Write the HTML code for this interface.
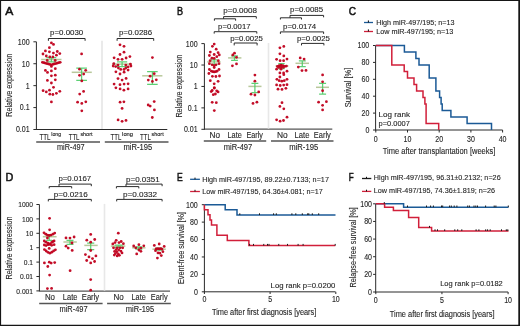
<!DOCTYPE html>
<html><head><meta charset="utf-8"><style>
html,body{margin:0;padding:0;background:#fff;}
body{width:520px;height:326px;overflow:hidden;}
svg{display:block;font-family:"Liberation Sans",sans-serif;}
text{stroke:#262626;stroke-width:0.12px;}
#txt{opacity:0.999;}
</style></head><body>
<svg width="520" height="326" viewBox="0 0 520 326">
<rect x="0" y="0" width="520" height="326" fill="#fff"/>
<line x1="36.40" y1="41.80" x2="36.40" y2="130.00" stroke="#2a2a2a" stroke-width="1"/>
<line x1="33.40" y1="41.80" x2="36.40" y2="41.80" stroke="#2a2a2a" stroke-width="1"/>
<line x1="33.40" y1="63.72" x2="36.40" y2="63.72" stroke="#2a2a2a" stroke-width="1"/>
<line x1="33.40" y1="85.65" x2="36.40" y2="85.65" stroke="#2a2a2a" stroke-width="1"/>
<line x1="33.40" y1="107.58" x2="36.40" y2="107.58" stroke="#2a2a2a" stroke-width="1"/>
<line x1="33.40" y1="129.50" x2="36.40" y2="129.50" stroke="#2a2a2a" stroke-width="1"/>
<line x1="36.40" y1="129.50" x2="167.30" y2="129.50" stroke="#2a2a2a" stroke-width="1"/>
<line x1="102.00" y1="40.80" x2="102.00" y2="129.00" stroke="#e8e8e8" stroke-width="1.8"/>
<line x1="36.20" y1="141.90" x2="100.00" y2="141.90" stroke="#555555" stroke-width="1.5"/>
<line x1="104.80" y1="141.90" x2="168.50" y2="141.90" stroke="#555555" stroke-width="1.5"/>
<path d="M48.40,40.80 V38.50 H85.10 V40.80" fill="none" stroke="#2a2a2a" stroke-width="1"/>
<path d="M117.10,40.80 V38.50 H153.70 V40.80" fill="none" stroke="#2a2a2a" stroke-width="1"/>
<line x1="204.40" y1="43.60" x2="204.40" y2="129.80" stroke="#2a2a2a" stroke-width="1"/>
<line x1="201.40" y1="43.60" x2="204.40" y2="43.60" stroke="#2a2a2a" stroke-width="1"/>
<line x1="201.40" y1="65.03" x2="204.40" y2="65.03" stroke="#2a2a2a" stroke-width="1"/>
<line x1="201.40" y1="86.45" x2="204.40" y2="86.45" stroke="#2a2a2a" stroke-width="1"/>
<line x1="201.40" y1="107.88" x2="204.40" y2="107.88" stroke="#2a2a2a" stroke-width="1"/>
<line x1="201.40" y1="129.30" x2="204.40" y2="129.30" stroke="#2a2a2a" stroke-width="1"/>
<line x1="204.40" y1="129.10" x2="332.30" y2="129.10" stroke="#2a2a2a" stroke-width="1"/>
<line x1="268.50" y1="43.00" x2="268.50" y2="128.60" stroke="#e8e8e8" stroke-width="1.6"/>
<line x1="203.80" y1="141.00" x2="266.20" y2="141.00" stroke="#555555" stroke-width="1.5"/>
<line x1="271.00" y1="141.00" x2="333.50" y2="141.00" stroke="#555555" stroke-width="1.5"/>
<path d="M214.40,20.70 V18.80 H235.60 V20.70" fill="none" stroke="#2a2a2a" stroke-width="1"/>
<path d="M223.6,18.8 V16.6 H256.3 V18.6" fill="none" stroke="#2a2a2a" stroke-width="1"/>
<path d="M214.20,33.60 V31.70 H256.80 V33.60" fill="none" stroke="#2a2a2a" stroke-width="1"/>
<path d="M234.20,45.40 V43.00 H257.10 V45.40" fill="none" stroke="#2a2a2a" stroke-width="1"/>
<path d="M280.40,19.50 V17.80 H301.50 V19.50" fill="none" stroke="#2a2a2a" stroke-width="1"/>
<path d="M290,17.8 V15.4 H323.6 V17.3" fill="none" stroke="#2a2a2a" stroke-width="1"/>
<path d="M280.40,33.90 V31.90 H323.60 V33.90" fill="none" stroke="#2a2a2a" stroke-width="1"/>
<path d="M301.50,45.40 V43.40 H323.90 V45.40" fill="none" stroke="#2a2a2a" stroke-width="1"/>
<line x1="375.60" y1="45.50" x2="375.60" y2="130.50" stroke="#2a2a2a" stroke-width="1"/>
<line x1="373.00" y1="45.50" x2="375.60" y2="45.50" stroke="#2a2a2a" stroke-width="1"/>
<line x1="373.00" y1="62.40" x2="375.60" y2="62.40" stroke="#2a2a2a" stroke-width="1"/>
<line x1="373.00" y1="79.30" x2="375.60" y2="79.30" stroke="#2a2a2a" stroke-width="1"/>
<line x1="373.00" y1="96.20" x2="375.60" y2="96.20" stroke="#2a2a2a" stroke-width="1"/>
<line x1="373.00" y1="113.10" x2="375.60" y2="113.10" stroke="#2a2a2a" stroke-width="1"/>
<line x1="373.00" y1="130.00" x2="375.60" y2="130.00" stroke="#2a2a2a" stroke-width="1"/>
<line x1="375.60" y1="130.00" x2="502.60" y2="130.00" stroke="#2a2a2a" stroke-width="1"/>
<line x1="375.80" y1="130.00" x2="375.80" y2="132.50" stroke="#2a2a2a" stroke-width="1"/>
<line x1="407.50" y1="130.00" x2="407.50" y2="132.50" stroke="#2a2a2a" stroke-width="1"/>
<line x1="439.20" y1="130.00" x2="439.20" y2="132.50" stroke="#2a2a2a" stroke-width="1"/>
<line x1="470.90" y1="130.00" x2="470.90" y2="132.50" stroke="#2a2a2a" stroke-width="1"/>
<line x1="502.60" y1="130.00" x2="502.60" y2="132.50" stroke="#2a2a2a" stroke-width="1"/>
<line x1="364.00" y1="22.50" x2="373.00" y2="22.50" stroke="#1b5a96" stroke-width="1.3"/>
<line x1="368.40" y1="20.40" x2="368.40" y2="22.50" stroke="#111" stroke-width="1.0"/>
<line x1="364.00" y1="31.50" x2="373.00" y2="31.50" stroke="#d11f3a" stroke-width="1.3"/>
<line x1="368.40" y1="29.40" x2="368.40" y2="31.50" stroke="#111" stroke-width="1.0"/>
<line x1="39.40" y1="204.50" x2="39.40" y2="291.40" stroke="#2a2a2a" stroke-width="1"/>
<line x1="36.40" y1="204.50" x2="39.40" y2="204.50" stroke="#2a2a2a" stroke-width="1"/>
<line x1="36.40" y1="218.90" x2="39.40" y2="218.90" stroke="#2a2a2a" stroke-width="1"/>
<line x1="36.40" y1="233.30" x2="39.40" y2="233.30" stroke="#2a2a2a" stroke-width="1"/>
<line x1="36.40" y1="247.70" x2="39.40" y2="247.70" stroke="#2a2a2a" stroke-width="1"/>
<line x1="36.40" y1="262.10" x2="39.40" y2="262.10" stroke="#2a2a2a" stroke-width="1"/>
<line x1="36.40" y1="276.50" x2="39.40" y2="276.50" stroke="#2a2a2a" stroke-width="1"/>
<line x1="36.40" y1="290.90" x2="39.40" y2="290.90" stroke="#2a2a2a" stroke-width="1"/>
<line x1="39.40" y1="291.10" x2="170.00" y2="291.10" stroke="#2a2a2a" stroke-width="1"/>
<line x1="104.50" y1="203.90" x2="104.50" y2="290.60" stroke="#e8e8e8" stroke-width="1.6"/>
<line x1="39.20" y1="303.60" x2="102.60" y2="303.60" stroke="#555555" stroke-width="1.5"/>
<line x1="107.10" y1="303.60" x2="170.80" y2="303.60" stroke="#555555" stroke-width="1.5"/>
<path d="M49.20,188.40 V186.60 H71.70 V188.40" fill="none" stroke="#2a2a2a" stroke-width="1"/>
<path d="M59,186.6 V184.1 H91.3 V186.2" fill="none" stroke="#2a2a2a" stroke-width="1"/>
<path d="M48.30,201.40 V199.40 H91.30 V201.40" fill="none" stroke="#2a2a2a" stroke-width="1"/>
<path d="M116.40,188.40 V186.60 H138.80 V188.40" fill="none" stroke="#2a2a2a" stroke-width="1"/>
<path d="M126,186.6 V184.1 H162.1 V186.2" fill="none" stroke="#2a2a2a" stroke-width="1"/>
<path d="M116.70,201.40 V199.40 H162.10 V201.40" fill="none" stroke="#2a2a2a" stroke-width="1"/>
<line x1="204.40" y1="204.70" x2="204.40" y2="292.30" stroke="#2a2a2a" stroke-width="1"/>
<line x1="201.80" y1="204.70" x2="204.40" y2="204.70" stroke="#2a2a2a" stroke-width="1"/>
<line x1="201.80" y1="222.12" x2="204.40" y2="222.12" stroke="#2a2a2a" stroke-width="1"/>
<line x1="201.80" y1="239.54" x2="204.40" y2="239.54" stroke="#2a2a2a" stroke-width="1"/>
<line x1="201.80" y1="256.96" x2="204.40" y2="256.96" stroke="#2a2a2a" stroke-width="1"/>
<line x1="201.80" y1="274.38" x2="204.40" y2="274.38" stroke="#2a2a2a" stroke-width="1"/>
<line x1="201.80" y1="291.80" x2="204.40" y2="291.80" stroke="#2a2a2a" stroke-width="1"/>
<line x1="204.40" y1="291.80" x2="335.50" y2="291.80" stroke="#2a2a2a" stroke-width="1"/>
<line x1="204.40" y1="291.80" x2="204.40" y2="294.00" stroke="#2a2a2a" stroke-width="1"/>
<line x1="270.10" y1="291.80" x2="270.10" y2="294.00" stroke="#2a2a2a" stroke-width="1"/>
<line x1="335.80" y1="291.80" x2="335.80" y2="294.00" stroke="#2a2a2a" stroke-width="1"/>
<line x1="190.10" y1="179.30" x2="199.90" y2="179.30" stroke="#1b5a96" stroke-width="1.3"/>
<line x1="195.00" y1="177.60" x2="195.00" y2="179.30" stroke="#111" stroke-width="1.0"/>
<line x1="190.10" y1="191.50" x2="199.90" y2="191.50" stroke="#d11f3a" stroke-width="1.3"/>
<line x1="195.00" y1="189.80" x2="195.00" y2="191.50" stroke="#111" stroke-width="1.0"/>
<line x1="375.70" y1="203.80" x2="375.70" y2="292.50" stroke="#2a2a2a" stroke-width="1"/>
<line x1="373.10" y1="203.80" x2="375.70" y2="203.80" stroke="#2a2a2a" stroke-width="1"/>
<line x1="373.10" y1="221.44" x2="375.70" y2="221.44" stroke="#2a2a2a" stroke-width="1"/>
<line x1="373.10" y1="239.08" x2="375.70" y2="239.08" stroke="#2a2a2a" stroke-width="1"/>
<line x1="373.10" y1="256.72" x2="375.70" y2="256.72" stroke="#2a2a2a" stroke-width="1"/>
<line x1="373.10" y1="274.36" x2="375.70" y2="274.36" stroke="#2a2a2a" stroke-width="1"/>
<line x1="373.10" y1="292.00" x2="375.70" y2="292.00" stroke="#2a2a2a" stroke-width="1"/>
<line x1="375.70" y1="292.00" x2="508.10" y2="292.00" stroke="#2a2a2a" stroke-width="1"/>
<line x1="375.80" y1="292.00" x2="375.80" y2="294.20" stroke="#2a2a2a" stroke-width="1"/>
<line x1="441.95" y1="292.00" x2="441.95" y2="294.20" stroke="#2a2a2a" stroke-width="1"/>
<line x1="508.10" y1="292.00" x2="508.10" y2="294.20" stroke="#2a2a2a" stroke-width="1"/>
<line x1="362.00" y1="178.50" x2="371.30" y2="178.50" stroke="#1a1a1a" stroke-width="1.3"/>
<line x1="366.50" y1="176.80" x2="366.50" y2="178.50" stroke="#111" stroke-width="1.0"/>
<line x1="362.00" y1="191.40" x2="371.30" y2="191.40" stroke="#d11f3a" stroke-width="1.3"/>
<line x1="366.50" y1="189.70" x2="366.50" y2="191.40" stroke="#111" stroke-width="1.0"/>
<line x1="41.2" y1="59.5" x2="61.5" y2="59.5" stroke="#9ab070" stroke-width="1.5" stroke-opacity="0.7"/>
<path d="M46.55,57.7 H56.25 M51.4,57.7 V61.9 M46.55,61.9 H56.25" fill="none" stroke="#4ccb66" stroke-width="1.25" stroke-opacity="0.9"/>
<line x1="71.7" y1="72.3" x2="91.8" y2="72.3" stroke="#9ab070" stroke-width="1.5" stroke-opacity="0.7"/>
<path d="M76.25,68.0 H86.95 M81.6,68.0 V80.3 M76.25,80.3 H86.95" fill="none" stroke="#4ccb66" stroke-width="1.25" stroke-opacity="0.9"/>
<line x1="112.0" y1="64.1" x2="131.8" y2="64.1" stroke="#9ab070" stroke-width="1.5" stroke-opacity="0.7"/>
<path d="M117.00,61.8 H127.20 M122.1,61.8 V66.6 M117.00,66.6 H127.20" fill="none" stroke="#4ccb66" stroke-width="1.25" stroke-opacity="0.9"/>
<line x1="142.2" y1="75.8" x2="162.4" y2="75.8" stroke="#9ab070" stroke-width="1.5" stroke-opacity="0.7"/>
<path d="M147.10,71.5 H157.70 M152.4,71.5 V84.4 M147.10,84.4 H157.70" fill="none" stroke="#4ccb66" stroke-width="1.25" stroke-opacity="0.9"/>
<line x1="207.3" y1="61.9" x2="220.6" y2="61.9" stroke="#9ab070" stroke-width="1.5" stroke-opacity="0.7"/>
<path d="M211.00,59.8 H217.40 M214.2,59.8 V64.4 M211.00,64.4 H217.40" fill="none" stroke="#4ccb66" stroke-width="1.25" stroke-opacity="0.9"/>
<line x1="228.1" y1="57.9" x2="241.4" y2="57.9" stroke="#9ab070" stroke-width="1.5" stroke-opacity="0.7"/>
<path d="M231.10,55.9 H237.90 M234.5,55.9 V60.3 M231.10,60.3 H237.90" fill="none" stroke="#4ccb66" stroke-width="1.25" stroke-opacity="0.9"/>
<line x1="248.4" y1="86.4" x2="261.5" y2="86.4" stroke="#9ab070" stroke-width="1.5" stroke-opacity="0.7"/>
<path d="M251.45,83.3 H258.35 M254.9,83.3 V92.5 M251.45,92.5 H258.35" fill="none" stroke="#4ccb66" stroke-width="1.25" stroke-opacity="0.9"/>
<line x1="275.5" y1="66.0" x2="288.4" y2="66.0" stroke="#9ab070" stroke-width="1.5" stroke-opacity="0.7"/>
<path d="M278.30,63.7 H284.70 M281.5,63.7 V68.7 M278.30,68.7 H284.70" fill="none" stroke="#4ccb66" stroke-width="1.25" stroke-opacity="0.9"/>
<line x1="295.5" y1="63.3" x2="309.0" y2="63.3" stroke="#9ab070" stroke-width="1.5" stroke-opacity="0.7"/>
<path d="M298.85,60.9 H305.75 M302.3,60.9 V66.5 M298.85,66.5 H305.75" fill="none" stroke="#4ccb66" stroke-width="1.25" stroke-opacity="0.9"/>
<line x1="316.0" y1="87.3" x2="329.0" y2="87.3" stroke="#9ab070" stroke-width="1.5" stroke-opacity="0.7"/>
<path d="M319.10,83.3 H326.10 M322.6,83.3 V94.2 M319.10,94.2 H326.10" fill="none" stroke="#4ccb66" stroke-width="1.25" stroke-opacity="0.9"/>
<line x1="42.8" y1="236.7" x2="56.6" y2="236.7" stroke="#9ab070" stroke-width="1.5" stroke-opacity="0.7"/>
<path d="M46.20,234.8 H52.20 M49.2,234.8 V240.4 M46.20,240.4 H52.20" fill="none" stroke="#4ccb66" stroke-width="1.25" stroke-opacity="0.9"/>
<line x1="63.4" y1="242.0" x2="76.8" y2="242.0" stroke="#9ab070" stroke-width="1.5" stroke-opacity="0.7"/>
<path d="M66.50,240.3 H73.50 M70.0,240.3 V244.3 M66.50,244.3 H73.50" fill="none" stroke="#4ccb66" stroke-width="1.25" stroke-opacity="0.9"/>
<line x1="84.3" y1="245.4" x2="97.7" y2="245.4" stroke="#9ab070" stroke-width="1.5" stroke-opacity="0.7"/>
<path d="M87.15,243.2 H94.25 M90.7,243.2 V249.5 M87.15,249.5 H94.25" fill="none" stroke="#4ccb66" stroke-width="1.25" stroke-opacity="0.9"/>
<line x1="110.9" y1="246.1" x2="125.3" y2="246.1" stroke="#9ab070" stroke-width="1.5" stroke-opacity="0.7"/>
<path d="M114.70,245.0 H122.70 M118.7,245.0 V247.4 M114.70,247.4 H122.70" fill="none" stroke="#4ccb66" stroke-width="1.25" stroke-opacity="0.9"/>
<line x1="132.1" y1="247.8" x2="145.5" y2="247.8" stroke="#9ab070" stroke-width="1.5" stroke-opacity="0.7"/>
<path d="M135.45,246.9 H142.35 M138.9,246.9 V249.0 M135.45,249.0 H142.35" fill="none" stroke="#4ccb66" stroke-width="1.25" stroke-opacity="0.9"/>
<line x1="152.4" y1="249.2" x2="165.8" y2="249.2" stroke="#9ab070" stroke-width="1.5" stroke-opacity="0.7"/>
<path d="M155.40,248.2 H162.40 M158.9,248.2 V250.2 M155.40,250.2 H162.40" fill="none" stroke="#4ccb66" stroke-width="1.25" stroke-opacity="0.9"/>
<circle cx="51.40" cy="42.90" r="1.4" fill="#c0001c" fill-opacity="0.95"/>
<circle cx="53.50" cy="44.40" r="1.4" fill="#c0001c" fill-opacity="0.95"/>
<circle cx="49.40" cy="47.70" r="1.4" fill="#c0001c" fill-opacity="0.95"/>
<circle cx="45.40" cy="50.90" r="1.4" fill="#c0001c" fill-opacity="0.95"/>
<circle cx="49.40" cy="51.80" r="1.4" fill="#c0001c" fill-opacity="0.95"/>
<circle cx="53.40" cy="53.10" r="1.4" fill="#c0001c" fill-opacity="0.95"/>
<circle cx="57.30" cy="51.50" r="1.4" fill="#c0001c" fill-opacity="0.95"/>
<circle cx="59.80" cy="53.60" r="1.4" fill="#c0001c" fill-opacity="0.95"/>
<circle cx="43.00" cy="54.00" r="1.4" fill="#c0001c" fill-opacity="0.95"/>
<circle cx="46.30" cy="56.00" r="1.4" fill="#c0001c" fill-opacity="0.95"/>
<circle cx="56.40" cy="55.20" r="1.4" fill="#c0001c" fill-opacity="0.95"/>
<circle cx="49.80" cy="57.00" r="1.4" fill="#c0001c" fill-opacity="0.95"/>
<circle cx="52.90" cy="57.00" r="1.4" fill="#c0001c" fill-opacity="0.95"/>
<circle cx="47.20" cy="60.40" r="1.4" fill="#c0001c" fill-opacity="0.95"/>
<circle cx="55.20" cy="60.40" r="1.4" fill="#c0001c" fill-opacity="0.95"/>
<circle cx="42.40" cy="62.30" r="1.4" fill="#c0001c" fill-opacity="0.95"/>
<circle cx="43.88" cy="62.72" r="1.4" fill="#c0001c" fill-opacity="0.95"/>
<circle cx="45.37" cy="63.13" r="1.4" fill="#c0001c" fill-opacity="0.95"/>
<circle cx="46.85" cy="63.55" r="1.4" fill="#c0001c" fill-opacity="0.95"/>
<circle cx="48.33" cy="63.97" r="1.4" fill="#c0001c" fill-opacity="0.95"/>
<circle cx="49.82" cy="64.38" r="1.4" fill="#c0001c" fill-opacity="0.95"/>
<circle cx="51.30" cy="64.80" r="1.4" fill="#c0001c" fill-opacity="0.95"/>
<circle cx="52.78" cy="64.38" r="1.4" fill="#c0001c" fill-opacity="0.95"/>
<circle cx="54.27" cy="63.97" r="1.4" fill="#c0001c" fill-opacity="0.95"/>
<circle cx="55.75" cy="63.55" r="1.4" fill="#c0001c" fill-opacity="0.95"/>
<circle cx="57.23" cy="63.13" r="1.4" fill="#c0001c" fill-opacity="0.95"/>
<circle cx="58.72" cy="62.72" r="1.4" fill="#c0001c" fill-opacity="0.95"/>
<circle cx="60.20" cy="62.30" r="1.4" fill="#c0001c" fill-opacity="0.95"/>
<circle cx="51.40" cy="66.40" r="1.4" fill="#c0001c" fill-opacity="0.95"/>
<circle cx="55.30" cy="68.70" r="1.4" fill="#c0001c" fill-opacity="0.95"/>
<circle cx="45.40" cy="70.40" r="1.4" fill="#c0001c" fill-opacity="0.95"/>
<circle cx="47.50" cy="72.40" r="1.4" fill="#c0001c" fill-opacity="0.95"/>
<circle cx="51.40" cy="70.90" r="1.4" fill="#c0001c" fill-opacity="0.95"/>
<circle cx="51.40" cy="75.80" r="1.4" fill="#c0001c" fill-opacity="0.95"/>
<circle cx="55.30" cy="75.20" r="1.4" fill="#c0001c" fill-opacity="0.95"/>
<circle cx="47.40" cy="80.40" r="1.4" fill="#c0001c" fill-opacity="0.95"/>
<circle cx="55.30" cy="79.80" r="1.4" fill="#c0001c" fill-opacity="0.95"/>
<circle cx="51.40" cy="83.00" r="1.4" fill="#c0001c" fill-opacity="0.95"/>
<circle cx="53.50" cy="87.30" r="1.4" fill="#c0001c" fill-opacity="0.95"/>
<circle cx="43.10" cy="90.70" r="1.4" fill="#c0001c" fill-opacity="0.95"/>
<circle cx="46.30" cy="91.90" r="1.4" fill="#c0001c" fill-opacity="0.95"/>
<circle cx="49.50" cy="90.20" r="1.4" fill="#c0001c" fill-opacity="0.95"/>
<circle cx="49.80" cy="94.20" r="1.4" fill="#c0001c" fill-opacity="0.95"/>
<circle cx="52.90" cy="94.50" r="1.4" fill="#c0001c" fill-opacity="0.95"/>
<circle cx="56.40" cy="93.30" r="1.4" fill="#c0001c" fill-opacity="0.95"/>
<circle cx="59.80" cy="91.30" r="1.4" fill="#c0001c" fill-opacity="0.95"/>
<circle cx="51.40" cy="101.90" r="1.4" fill="#c0001c" fill-opacity="0.95"/>
<circle cx="81.60" cy="53.90" r="1.4" fill="#c0001c" fill-opacity="0.95"/>
<circle cx="79.50" cy="69.20" r="1.4" fill="#c0001c" fill-opacity="0.95"/>
<circle cx="85.70" cy="70.30" r="1.4" fill="#c0001c" fill-opacity="0.95"/>
<circle cx="83.70" cy="74.10" r="1.4" fill="#c0001c" fill-opacity="0.95"/>
<circle cx="79.50" cy="75.30" r="1.4" fill="#c0001c" fill-opacity="0.95"/>
<circle cx="81.80" cy="80.90" r="1.4" fill="#c0001c" fill-opacity="0.95"/>
<circle cx="83.60" cy="91.40" r="1.4" fill="#c0001c" fill-opacity="0.95"/>
<circle cx="79.70" cy="94.10" r="1.4" fill="#c0001c" fill-opacity="0.95"/>
<circle cx="77.60" cy="102.20" r="1.4" fill="#c0001c" fill-opacity="0.95"/>
<circle cx="81.80" cy="103.40" r="1.4" fill="#c0001c" fill-opacity="0.95"/>
<circle cx="85.80" cy="101.80" r="1.4" fill="#c0001c" fill-opacity="0.95"/>
<circle cx="81.80" cy="110.80" r="1.4" fill="#c0001c" fill-opacity="0.95"/>
<circle cx="120.00" cy="44.80" r="1.4" fill="#c0001c" fill-opacity="0.95"/>
<circle cx="124.00" cy="46.30" r="1.4" fill="#c0001c" fill-opacity="0.95"/>
<circle cx="124.00" cy="52.20" r="1.4" fill="#c0001c" fill-opacity="0.95"/>
<circle cx="120.00" cy="54.50" r="1.4" fill="#c0001c" fill-opacity="0.95"/>
<circle cx="114.10" cy="57.80" r="1.4" fill="#c0001c" fill-opacity="0.95"/>
<circle cx="118.00" cy="59.30" r="1.4" fill="#c0001c" fill-opacity="0.95"/>
<circle cx="122.10" cy="59.30" r="1.4" fill="#c0001c" fill-opacity="0.95"/>
<circle cx="126.10" cy="58.00" r="1.4" fill="#c0001c" fill-opacity="0.95"/>
<circle cx="129.90" cy="56.60" r="1.4" fill="#c0001c" fill-opacity="0.95"/>
<circle cx="113.80" cy="63.70" r="1.4" fill="#c0001c" fill-opacity="0.95"/>
<circle cx="113.20" cy="66.00" r="1.4" fill="#c0001c" fill-opacity="0.95"/>
<circle cx="115.70" cy="66.60" r="1.4" fill="#c0001c" fill-opacity="0.95"/>
<circle cx="118.00" cy="65.10" r="1.4" fill="#c0001c" fill-opacity="0.95"/>
<circle cx="125.80" cy="65.10" r="1.4" fill="#c0001c" fill-opacity="0.95"/>
<circle cx="130.40" cy="64.10" r="1.4" fill="#c0001c" fill-opacity="0.95"/>
<circle cx="130.90" cy="66.00" r="1.4" fill="#c0001c" fill-opacity="0.95"/>
<circle cx="128.10" cy="66.90" r="1.4" fill="#c0001c" fill-opacity="0.95"/>
<circle cx="118.40" cy="68.10" r="1.4" fill="#c0001c" fill-opacity="0.95"/>
<circle cx="120.70" cy="69.40" r="1.4" fill="#c0001c" fill-opacity="0.95"/>
<circle cx="124.00" cy="69.40" r="1.4" fill="#c0001c" fill-opacity="0.95"/>
<circle cx="125.80" cy="68.10" r="1.4" fill="#c0001c" fill-opacity="0.95"/>
<circle cx="115.90" cy="71.80" r="1.4" fill="#c0001c" fill-opacity="0.95"/>
<circle cx="120.00" cy="74.00" r="1.4" fill="#c0001c" fill-opacity="0.95"/>
<circle cx="124.10" cy="72.20" r="1.4" fill="#c0001c" fill-opacity="0.95"/>
<circle cx="128.10" cy="70.10" r="1.4" fill="#c0001c" fill-opacity="0.95"/>
<circle cx="118.00" cy="78.60" r="1.4" fill="#c0001c" fill-opacity="0.95"/>
<circle cx="122.10" cy="80.10" r="1.4" fill="#c0001c" fill-opacity="0.95"/>
<circle cx="126.10" cy="78.40" r="1.4" fill="#c0001c" fill-opacity="0.95"/>
<circle cx="114.10" cy="84.10" r="1.4" fill="#c0001c" fill-opacity="0.95"/>
<circle cx="120.00" cy="84.70" r="1.4" fill="#c0001c" fill-opacity="0.95"/>
<circle cx="124.10" cy="84.10" r="1.4" fill="#c0001c" fill-opacity="0.95"/>
<circle cx="128.10" cy="83.80" r="1.4" fill="#c0001c" fill-opacity="0.95"/>
<circle cx="115.90" cy="87.80" r="1.4" fill="#c0001c" fill-opacity="0.95"/>
<circle cx="120.10" cy="88.90" r="1.4" fill="#c0001c" fill-opacity="0.95"/>
<circle cx="123.90" cy="90.20" r="1.4" fill="#c0001c" fill-opacity="0.95"/>
<circle cx="128.10" cy="88.90" r="1.4" fill="#c0001c" fill-opacity="0.95"/>
<circle cx="120.10" cy="102.20" r="1.4" fill="#c0001c" fill-opacity="0.95"/>
<circle cx="123.90" cy="101.80" r="1.4" fill="#c0001c" fill-opacity="0.95"/>
<circle cx="122.10" cy="108.40" r="1.4" fill="#c0001c" fill-opacity="0.95"/>
<circle cx="118.10" cy="119.90" r="1.4" fill="#c0001c" fill-opacity="0.95"/>
<circle cx="122.10" cy="121.30" r="1.4" fill="#c0001c" fill-opacity="0.95"/>
<circle cx="126.00" cy="120.40" r="1.4" fill="#c0001c" fill-opacity="0.95"/>
<circle cx="152.40" cy="57.60" r="1.4" fill="#c0001c" fill-opacity="0.95"/>
<circle cx="154.20" cy="73.70" r="1.4" fill="#c0001c" fill-opacity="0.95"/>
<circle cx="150.10" cy="76.20" r="1.4" fill="#c0001c" fill-opacity="0.95"/>
<circle cx="148.30" cy="80.10" r="1.4" fill="#c0001c" fill-opacity="0.95"/>
<circle cx="152.40" cy="81.40" r="1.4" fill="#c0001c" fill-opacity="0.95"/>
<circle cx="156.30" cy="79.80" r="1.4" fill="#c0001c" fill-opacity="0.95"/>
<circle cx="154.20" cy="101.60" r="1.4" fill="#c0001c" fill-opacity="0.95"/>
<circle cx="148.20" cy="105.00" r="1.4" fill="#c0001c" fill-opacity="0.95"/>
<circle cx="150.20" cy="106.10" r="1.4" fill="#c0001c" fill-opacity="0.95"/>
<circle cx="154.40" cy="109.90" r="1.4" fill="#c0001c" fill-opacity="0.95"/>
<circle cx="152.30" cy="117.50" r="1.4" fill="#c0001c" fill-opacity="0.95"/>
<circle cx="214.20" cy="44.10" r="1.4" fill="#c0001c" fill-opacity="0.95"/>
<circle cx="212.40" cy="46.30" r="1.4" fill="#c0001c" fill-opacity="0.95"/>
<circle cx="216.20" cy="49.20" r="1.4" fill="#c0001c" fill-opacity="0.95"/>
<circle cx="210.30" cy="52.10" r="1.4" fill="#c0001c" fill-opacity="0.95"/>
<circle cx="218.10" cy="52.70" r="1.4" fill="#c0001c" fill-opacity="0.95"/>
<circle cx="209.40" cy="55.50" r="1.4" fill="#c0001c" fill-opacity="0.95"/>
<circle cx="214.20" cy="54.50" r="1.4" fill="#c0001c" fill-opacity="0.95"/>
<circle cx="219.30" cy="54.90" r="1.4" fill="#c0001c" fill-opacity="0.95"/>
<circle cx="216.80" cy="56.70" r="1.4" fill="#c0001c" fill-opacity="0.95"/>
<circle cx="211.90" cy="58.20" r="1.4" fill="#c0001c" fill-opacity="0.95"/>
<circle cx="214.20" cy="58.40" r="1.4" fill="#c0001c" fill-opacity="0.95"/>
<circle cx="210.10" cy="60.70" r="1.4" fill="#c0001c" fill-opacity="0.95"/>
<circle cx="218.30" cy="60.70" r="1.4" fill="#c0001c" fill-opacity="0.95"/>
<circle cx="209.40" cy="63.70" r="1.4" fill="#c0001c" fill-opacity="0.95"/>
<circle cx="212.20" cy="64.80" r="1.4" fill="#c0001c" fill-opacity="0.95"/>
<circle cx="216.00" cy="64.80" r="1.4" fill="#c0001c" fill-opacity="0.95"/>
<circle cx="219.00" cy="63.70" r="1.4" fill="#c0001c" fill-opacity="0.95"/>
<circle cx="214.20" cy="65.60" r="1.4" fill="#c0001c" fill-opacity="0.95"/>
<circle cx="214.20" cy="67.50" r="1.4" fill="#c0001c" fill-opacity="0.95"/>
<circle cx="209.40" cy="69.50" r="1.4" fill="#c0001c" fill-opacity="0.95"/>
<circle cx="219.00" cy="69.50" r="1.4" fill="#c0001c" fill-opacity="0.95"/>
<circle cx="211.40" cy="71.20" r="1.4" fill="#c0001c" fill-opacity="0.95"/>
<circle cx="212.80" cy="71.70" r="1.4" fill="#c0001c" fill-opacity="0.95"/>
<circle cx="214.20" cy="71.90" r="1.4" fill="#c0001c" fill-opacity="0.95"/>
<circle cx="215.60" cy="71.70" r="1.4" fill="#c0001c" fill-opacity="0.95"/>
<circle cx="217.00" cy="71.20" r="1.4" fill="#c0001c" fill-opacity="0.95"/>
<circle cx="208.90" cy="73.50" r="1.4" fill="#c0001c" fill-opacity="0.95"/>
<circle cx="212.40" cy="76.30" r="1.4" fill="#c0001c" fill-opacity="0.95"/>
<circle cx="215.90" cy="76.50" r="1.4" fill="#c0001c" fill-opacity="0.95"/>
<circle cx="219.50" cy="76.00" r="1.4" fill="#c0001c" fill-opacity="0.95"/>
<circle cx="210.30" cy="80.70" r="1.4" fill="#c0001c" fill-opacity="0.95"/>
<circle cx="218.10" cy="81.30" r="1.4" fill="#c0001c" fill-opacity="0.95"/>
<circle cx="214.20" cy="83.80" r="1.4" fill="#c0001c" fill-opacity="0.95"/>
<circle cx="214.20" cy="88.00" r="1.4" fill="#c0001c" fill-opacity="0.95"/>
<circle cx="214.40" cy="87.80" r="1.4" fill="#c0001c" fill-opacity="0.95"/>
<circle cx="211.20" cy="91.60" r="1.4" fill="#c0001c" fill-opacity="0.95"/>
<circle cx="212.20" cy="90.50" r="1.4" fill="#c0001c" fill-opacity="0.95"/>
<circle cx="216.70" cy="90.80" r="1.4" fill="#c0001c" fill-opacity="0.95"/>
<circle cx="218.10" cy="91.90" r="1.4" fill="#c0001c" fill-opacity="0.95"/>
<circle cx="213.30" cy="94.70" r="1.4" fill="#c0001c" fill-opacity="0.95"/>
<circle cx="215.40" cy="94.00" r="1.4" fill="#c0001c" fill-opacity="0.95"/>
<circle cx="212.20" cy="102.30" r="1.4" fill="#c0001c" fill-opacity="0.95"/>
<circle cx="216.30" cy="102.70" r="1.4" fill="#c0001c" fill-opacity="0.95"/>
<circle cx="214.30" cy="110.60" r="1.4" fill="#c0001c" fill-opacity="0.95"/>
<circle cx="234.50" cy="53.20" r="1.4" fill="#c0001c" fill-opacity="0.95"/>
<circle cx="232.80" cy="55.00" r="1.4" fill="#c0001c" fill-opacity="0.95"/>
<circle cx="236.50" cy="57.30" r="1.4" fill="#c0001c" fill-opacity="0.95"/>
<circle cx="236.50" cy="63.90" r="1.4" fill="#c0001c" fill-opacity="0.95"/>
<circle cx="232.40" cy="65.80" r="1.4" fill="#c0001c" fill-opacity="0.95"/>
<circle cx="254.90" cy="75.10" r="1.4" fill="#c0001c" fill-opacity="0.95"/>
<circle cx="254.90" cy="81.20" r="1.4" fill="#c0001c" fill-opacity="0.95"/>
<circle cx="251.00" cy="94.20" r="1.4" fill="#c0001c" fill-opacity="0.95"/>
<circle cx="254.90" cy="95.00" r="1.4" fill="#c0001c" fill-opacity="0.95"/>
<circle cx="258.70" cy="91.90" r="1.4" fill="#c0001c" fill-opacity="0.95"/>
<circle cx="253.00" cy="103.40" r="1.4" fill="#c0001c" fill-opacity="0.95"/>
<circle cx="256.90" cy="102.20" r="1.4" fill="#c0001c" fill-opacity="0.95"/>
<circle cx="279.90" cy="47.80" r="1.4" fill="#c0001c" fill-opacity="0.95"/>
<circle cx="283.80" cy="46.40" r="1.4" fill="#c0001c" fill-opacity="0.95"/>
<circle cx="279.90" cy="53.80" r="1.4" fill="#c0001c" fill-opacity="0.95"/>
<circle cx="283.80" cy="55.90" r="1.4" fill="#c0001c" fill-opacity="0.95"/>
<circle cx="276.60" cy="59.30" r="1.4" fill="#c0001c" fill-opacity="0.95"/>
<circle cx="280.10" cy="60.70" r="1.4" fill="#c0001c" fill-opacity="0.95"/>
<circle cx="283.60" cy="60.70" r="1.4" fill="#c0001c" fill-opacity="0.95"/>
<circle cx="287.00" cy="59.10" r="1.4" fill="#c0001c" fill-opacity="0.95"/>
<circle cx="277.40" cy="66.40" r="1.4" fill="#c0001c" fill-opacity="0.95"/>
<circle cx="279.20" cy="65.70" r="1.4" fill="#c0001c" fill-opacity="0.95"/>
<circle cx="281.00" cy="65.10" r="1.4" fill="#c0001c" fill-opacity="0.95"/>
<circle cx="282.90" cy="65.70" r="1.4" fill="#c0001c" fill-opacity="0.95"/>
<circle cx="284.70" cy="66.40" r="1.4" fill="#c0001c" fill-opacity="0.95"/>
<circle cx="286.40" cy="66.10" r="1.4" fill="#c0001c" fill-opacity="0.95"/>
<circle cx="278.70" cy="67.40" r="1.4" fill="#c0001c" fill-opacity="0.95"/>
<circle cx="281.00" cy="66.90" r="1.4" fill="#c0001c" fill-opacity="0.95"/>
<circle cx="283.30" cy="67.40" r="1.4" fill="#c0001c" fill-opacity="0.95"/>
<circle cx="281.00" cy="69.20" r="1.4" fill="#c0001c" fill-opacity="0.95"/>
<circle cx="276.60" cy="69.20" r="1.4" fill="#c0001c" fill-opacity="0.95"/>
<circle cx="287.00" cy="71.20" r="1.4" fill="#c0001c" fill-opacity="0.95"/>
<circle cx="279.90" cy="72.90" r="1.4" fill="#c0001c" fill-opacity="0.95"/>
<circle cx="283.60" cy="72.90" r="1.4" fill="#c0001c" fill-opacity="0.95"/>
<circle cx="283.80" cy="74.70" r="1.4" fill="#c0001c" fill-opacity="0.95"/>
<circle cx="279.90" cy="77.00" r="1.4" fill="#c0001c" fill-opacity="0.95"/>
<circle cx="276.90" cy="79.30" r="1.4" fill="#c0001c" fill-opacity="0.95"/>
<circle cx="279.20" cy="80.70" r="1.4" fill="#c0001c" fill-opacity="0.95"/>
<circle cx="281.80" cy="81.20" r="1.4" fill="#c0001c" fill-opacity="0.95"/>
<circle cx="284.30" cy="80.70" r="1.4" fill="#c0001c" fill-opacity="0.95"/>
<circle cx="287.00" cy="79.30" r="1.4" fill="#c0001c" fill-opacity="0.95"/>
<circle cx="276.60" cy="84.90" r="1.4" fill="#c0001c" fill-opacity="0.95"/>
<circle cx="280.20" cy="85.50" r="1.4" fill="#c0001c" fill-opacity="0.95"/>
<circle cx="283.70" cy="85.10" r="1.4" fill="#c0001c" fill-opacity="0.95"/>
<circle cx="287.00" cy="84.70" r="1.4" fill="#c0001c" fill-opacity="0.95"/>
<circle cx="278.00" cy="89.20" r="1.4" fill="#c0001c" fill-opacity="0.95"/>
<circle cx="282.00" cy="89.40" r="1.4" fill="#c0001c" fill-opacity="0.95"/>
<circle cx="285.90" cy="88.30" r="1.4" fill="#c0001c" fill-opacity="0.95"/>
<circle cx="282.00" cy="102.70" r="1.4" fill="#c0001c" fill-opacity="0.95"/>
<circle cx="279.90" cy="106.40" r="1.4" fill="#c0001c" fill-opacity="0.95"/>
<circle cx="283.80" cy="108.80" r="1.4" fill="#c0001c" fill-opacity="0.95"/>
<circle cx="276.60" cy="119.80" r="1.4" fill="#c0001c" fill-opacity="0.95"/>
<circle cx="280.10" cy="121.20" r="1.4" fill="#c0001c" fill-opacity="0.95"/>
<circle cx="283.50" cy="120.50" r="1.4" fill="#c0001c" fill-opacity="0.95"/>
<circle cx="287.00" cy="117.20" r="1.4" fill="#c0001c" fill-opacity="0.95"/>
<circle cx="300.20" cy="57.90" r="1.4" fill="#c0001c" fill-opacity="0.95"/>
<circle cx="304.10" cy="59.10" r="1.4" fill="#c0001c" fill-opacity="0.95"/>
<circle cx="298.30" cy="67.10" r="1.4" fill="#c0001c" fill-opacity="0.95"/>
<circle cx="302.00" cy="70.60" r="1.4" fill="#c0001c" fill-opacity="0.95"/>
<circle cx="306.00" cy="70.40" r="1.4" fill="#c0001c" fill-opacity="0.95"/>
<circle cx="322.60" cy="74.90" r="1.4" fill="#c0001c" fill-opacity="0.95"/>
<circle cx="322.60" cy="81.80" r="1.4" fill="#c0001c" fill-opacity="0.95"/>
<circle cx="322.60" cy="90.70" r="1.4" fill="#c0001c" fill-opacity="0.95"/>
<circle cx="318.60" cy="102.20" r="1.4" fill="#c0001c" fill-opacity="0.95"/>
<circle cx="326.40" cy="101.70" r="1.4" fill="#c0001c" fill-opacity="0.95"/>
<circle cx="322.60" cy="105.30" r="1.4" fill="#c0001c" fill-opacity="0.95"/>
<circle cx="322.60" cy="109.90" r="1.4" fill="#c0001c" fill-opacity="0.95"/>
<circle cx="49.60" cy="218.30" r="1.4" fill="#c0001c" fill-opacity="0.95"/>
<circle cx="49.60" cy="229.80" r="1.4" fill="#c0001c" fill-opacity="0.95"/>
<circle cx="44.00" cy="232.80" r="1.4" fill="#c0001c" fill-opacity="0.95"/>
<circle cx="45.80" cy="234.20" r="1.4" fill="#c0001c" fill-opacity="0.95"/>
<circle cx="47.40" cy="235.10" r="1.4" fill="#c0001c" fill-opacity="0.95"/>
<circle cx="49.20" cy="235.50" r="1.4" fill="#c0001c" fill-opacity="0.95"/>
<circle cx="51.00" cy="235.10" r="1.4" fill="#c0001c" fill-opacity="0.95"/>
<circle cx="52.90" cy="234.20" r="1.4" fill="#c0001c" fill-opacity="0.95"/>
<circle cx="54.70" cy="233.10" r="1.4" fill="#c0001c" fill-opacity="0.95"/>
<circle cx="47.40" cy="238.00" r="1.4" fill="#c0001c" fill-opacity="0.95"/>
<circle cx="44.30" cy="241.00" r="1.4" fill="#c0001c" fill-opacity="0.95"/>
<circle cx="46.10" cy="242.20" r="1.4" fill="#c0001c" fill-opacity="0.95"/>
<circle cx="48.00" cy="243.20" r="1.4" fill="#c0001c" fill-opacity="0.95"/>
<circle cx="49.80" cy="243.80" r="1.4" fill="#c0001c" fill-opacity="0.95"/>
<circle cx="51.70" cy="242.50" r="1.4" fill="#c0001c" fill-opacity="0.95"/>
<circle cx="53.00" cy="241.50" r="1.4" fill="#c0001c" fill-opacity="0.95"/>
<circle cx="54.10" cy="240.90" r="1.4" fill="#c0001c" fill-opacity="0.95"/>
<circle cx="44.30" cy="245.00" r="1.4" fill="#c0001c" fill-opacity="0.95"/>
<circle cx="46.10" cy="245.60" r="1.4" fill="#c0001c" fill-opacity="0.95"/>
<circle cx="48.00" cy="244.70" r="1.4" fill="#c0001c" fill-opacity="0.95"/>
<circle cx="49.80" cy="244.40" r="1.4" fill="#c0001c" fill-opacity="0.95"/>
<circle cx="51.70" cy="245.30" r="1.4" fill="#c0001c" fill-opacity="0.95"/>
<circle cx="54.10" cy="244.70" r="1.4" fill="#c0001c" fill-opacity="0.95"/>
<circle cx="49.20" cy="248.40" r="1.4" fill="#c0001c" fill-opacity="0.95"/>
<circle cx="44.40" cy="249.60" r="1.4" fill="#c0001c" fill-opacity="0.95"/>
<circle cx="46.20" cy="251.00" r="1.4" fill="#c0001c" fill-opacity="0.95"/>
<circle cx="48.00" cy="252.30" r="1.4" fill="#c0001c" fill-opacity="0.95"/>
<circle cx="49.90" cy="253.20" r="1.4" fill="#c0001c" fill-opacity="0.95"/>
<circle cx="51.80" cy="252.20" r="1.4" fill="#c0001c" fill-opacity="0.95"/>
<circle cx="53.60" cy="250.90" r="1.4" fill="#c0001c" fill-opacity="0.95"/>
<circle cx="55.40" cy="249.80" r="1.4" fill="#c0001c" fill-opacity="0.95"/>
<circle cx="44.40" cy="262.90" r="1.4" fill="#c0001c" fill-opacity="0.95"/>
<circle cx="49.30" cy="262.20" r="1.4" fill="#c0001c" fill-opacity="0.95"/>
<circle cx="51.20" cy="263.10" r="1.4" fill="#c0001c" fill-opacity="0.95"/>
<circle cx="54.70" cy="262.60" r="1.4" fill="#c0001c" fill-opacity="0.95"/>
<circle cx="47.80" cy="266.50" r="1.4" fill="#c0001c" fill-opacity="0.95"/>
<circle cx="49.60" cy="275.10" r="1.4" fill="#c0001c" fill-opacity="0.95"/>
<circle cx="47.40" cy="288.60" r="1.4" fill="#c0001c" fill-opacity="0.95"/>
<circle cx="51.60" cy="288.40" r="1.4" fill="#c0001c" fill-opacity="0.95"/>
<circle cx="66.00" cy="237.90" r="1.4" fill="#c0001c" fill-opacity="0.95"/>
<circle cx="70.00" cy="238.10" r="1.4" fill="#c0001c" fill-opacity="0.95"/>
<circle cx="74.10" cy="237.00" r="1.4" fill="#c0001c" fill-opacity="0.95"/>
<circle cx="72.00" cy="243.00" r="1.4" fill="#c0001c" fill-opacity="0.95"/>
<circle cx="66.00" cy="246.20" r="1.4" fill="#c0001c" fill-opacity="0.95"/>
<circle cx="68.20" cy="248.10" r="1.4" fill="#c0001c" fill-opacity="0.95"/>
<circle cx="72.20" cy="250.40" r="1.4" fill="#c0001c" fill-opacity="0.95"/>
<circle cx="70.10" cy="270.70" r="1.4" fill="#c0001c" fill-opacity="0.95"/>
<circle cx="90.70" cy="234.40" r="1.4" fill="#c0001c" fill-opacity="0.95"/>
<circle cx="86.80" cy="240.20" r="1.4" fill="#c0001c" fill-opacity="0.95"/>
<circle cx="94.70" cy="239.50" r="1.4" fill="#c0001c" fill-opacity="0.95"/>
<circle cx="90.70" cy="242.20" r="1.4" fill="#c0001c" fill-opacity="0.95"/>
<circle cx="90.70" cy="250.50" r="1.4" fill="#c0001c" fill-opacity="0.95"/>
<circle cx="85.40" cy="254.60" r="1.4" fill="#c0001c" fill-opacity="0.95"/>
<circle cx="89.00" cy="256.90" r="1.4" fill="#c0001c" fill-opacity="0.95"/>
<circle cx="92.50" cy="258.60" r="1.4" fill="#c0001c" fill-opacity="0.95"/>
<circle cx="95.90" cy="255.90" r="1.4" fill="#c0001c" fill-opacity="0.95"/>
<circle cx="86.70" cy="260.50" r="1.4" fill="#c0001c" fill-opacity="0.95"/>
<circle cx="90.70" cy="262.90" r="1.4" fill="#c0001c" fill-opacity="0.95"/>
<circle cx="94.60" cy="261.50" r="1.4" fill="#c0001c" fill-opacity="0.95"/>
<circle cx="90.70" cy="279.60" r="1.4" fill="#c0001c" fill-opacity="0.95"/>
<circle cx="90.70" cy="290.20" r="1.4" fill="#c0001c" fill-opacity="0.95"/>
<circle cx="118.30" cy="233.20" r="1.4" fill="#c0001c" fill-opacity="0.95"/>
<circle cx="116.20" cy="240.30" r="1.4" fill="#c0001c" fill-opacity="0.95"/>
<circle cx="121.20" cy="241.50" r="1.4" fill="#c0001c" fill-opacity="0.95"/>
<circle cx="112.80" cy="243.90" r="1.4" fill="#c0001c" fill-opacity="0.95"/>
<circle cx="115.00" cy="242.60" r="1.4" fill="#c0001c" fill-opacity="0.95"/>
<circle cx="119.00" cy="242.60" r="1.4" fill="#c0001c" fill-opacity="0.95"/>
<circle cx="123.40" cy="243.70" r="1.4" fill="#c0001c" fill-opacity="0.95"/>
<circle cx="113.50" cy="247.80" r="1.4" fill="#c0001c" fill-opacity="0.95"/>
<circle cx="117.20" cy="247.80" r="1.4" fill="#c0001c" fill-opacity="0.95"/>
<circle cx="120.10" cy="247.80" r="1.4" fill="#c0001c" fill-opacity="0.95"/>
<circle cx="122.70" cy="247.80" r="1.4" fill="#c0001c" fill-opacity="0.95"/>
<circle cx="116.10" cy="249.60" r="1.4" fill="#c0001c" fill-opacity="0.95"/>
<circle cx="118.70" cy="250.00" r="1.4" fill="#c0001c" fill-opacity="0.95"/>
<circle cx="114.60" cy="251.40" r="1.4" fill="#c0001c" fill-opacity="0.95"/>
<circle cx="120.90" cy="251.10" r="1.4" fill="#c0001c" fill-opacity="0.95"/>
<circle cx="116.80" cy="251.80" r="1.4" fill="#c0001c" fill-opacity="0.95"/>
<circle cx="122.00" cy="252.90" r="1.4" fill="#c0001c" fill-opacity="0.95"/>
<circle cx="115.40" cy="253.60" r="1.4" fill="#c0001c" fill-opacity="0.95"/>
<circle cx="118.30" cy="254.00" r="1.4" fill="#c0001c" fill-opacity="0.95"/>
<circle cx="114.30" cy="255.10" r="1.4" fill="#c0001c" fill-opacity="0.95"/>
<circle cx="117.20" cy="255.90" r="1.4" fill="#c0001c" fill-opacity="0.95"/>
<circle cx="119.40" cy="255.30" r="1.4" fill="#c0001c" fill-opacity="0.95"/>
<circle cx="133.70" cy="246.00" r="1.4" fill="#c0001c" fill-opacity="0.95"/>
<circle cx="138.90" cy="244.70" r="1.4" fill="#c0001c" fill-opacity="0.95"/>
<circle cx="143.80" cy="245.80" r="1.4" fill="#c0001c" fill-opacity="0.95"/>
<circle cx="135.80" cy="247.80" r="1.4" fill="#c0001c" fill-opacity="0.95"/>
<circle cx="140.90" cy="248.10" r="1.4" fill="#c0001c" fill-opacity="0.95"/>
<circle cx="138.90" cy="250.00" r="1.4" fill="#c0001c" fill-opacity="0.95"/>
<circle cx="140.90" cy="251.30" r="1.4" fill="#c0001c" fill-opacity="0.95"/>
<circle cx="136.70" cy="253.90" r="1.4" fill="#c0001c" fill-opacity="0.95"/>
<circle cx="154.30" cy="245.40" r="1.4" fill="#c0001c" fill-opacity="0.95"/>
<circle cx="159.20" cy="244.00" r="1.4" fill="#c0001c" fill-opacity="0.95"/>
<circle cx="164.20" cy="246.40" r="1.4" fill="#c0001c" fill-opacity="0.95"/>
<circle cx="156.10" cy="248.90" r="1.4" fill="#c0001c" fill-opacity="0.95"/>
<circle cx="157.70" cy="248.60" r="1.4" fill="#c0001c" fill-opacity="0.95"/>
<circle cx="159.20" cy="248.90" r="1.4" fill="#c0001c" fill-opacity="0.95"/>
<circle cx="160.70" cy="248.60" r="1.4" fill="#c0001c" fill-opacity="0.95"/>
<circle cx="162.00" cy="249.10" r="1.4" fill="#c0001c" fill-opacity="0.95"/>
<circle cx="155.50" cy="250.70" r="1.4" fill="#c0001c" fill-opacity="0.95"/>
<circle cx="162.90" cy="251.70" r="1.4" fill="#c0001c" fill-opacity="0.95"/>
<circle cx="158.00" cy="252.90" r="1.4" fill="#c0001c" fill-opacity="0.95"/>
<circle cx="159.80" cy="253.20" r="1.4" fill="#c0001c" fill-opacity="0.95"/>
<circle cx="161.30" cy="255.60" r="1.4" fill="#c0001c" fill-opacity="0.95"/>
<circle cx="157.40" cy="258.10" r="1.4" fill="#c0001c" fill-opacity="0.95"/>
<path d="M375.8,45.5 H404.4 V52 H415.9 V58.5 H419 V65 H429.2 V78 H435.9 V91 H439.6 V97.5 H441.1 V104 H442.2 V110.5 H450.9 V117 H467.1 V123.5 H491.5 V130" fill="none" stroke="#1b5a96" stroke-width="1.5"/>
<path d="M375.8,45.5 H391.8 V65 H404.2 V71.5 H407.5 V78 H414 V84.5 H416.6 V91 H423 V97.5 H424.9 V104 H426.1 V123.5 H438.7 V130" fill="none" stroke="#d11f3a" stroke-width="1.5"/>
<path d="M204.4,204.7 H225.2 V209.8 H237.0 V215.0 H335.5" fill="none" stroke="#1b5a96" stroke-width="1.5"/>
<path d="M204.4,204.7 V209.7 H208 V214.8 H210 V219.9 H211.5 V225 H216.9 V235.3 H227.3 V240.5 H248.9 V245.6 H335.3" fill="none" stroke="#d11f3a" stroke-width="1.5"/>
<line x1="239.80" y1="213.30" x2="239.80" y2="215.00" stroke="#1a1a1a" stroke-width="1.0"/>
<line x1="259.50" y1="213.30" x2="259.50" y2="215.00" stroke="#1a1a1a" stroke-width="1.0"/>
<line x1="273.60" y1="213.30" x2="273.60" y2="215.00" stroke="#1a1a1a" stroke-width="1.0"/>
<line x1="276.30" y1="213.30" x2="276.30" y2="215.00" stroke="#1a1a1a" stroke-width="1.0"/>
<line x1="291.90" y1="213.30" x2="291.90" y2="215.00" stroke="#1a1a1a" stroke-width="1.0"/>
<line x1="295.80" y1="213.30" x2="295.80" y2="215.00" stroke="#1a1a1a" stroke-width="1.0"/>
<line x1="302.30" y1="213.30" x2="302.30" y2="215.00" stroke="#1a1a1a" stroke-width="1.0"/>
<line x1="307.70" y1="213.30" x2="307.70" y2="215.00" stroke="#1a1a1a" stroke-width="1.0"/>
<line x1="308.80" y1="213.30" x2="308.80" y2="215.00" stroke="#1a1a1a" stroke-width="1.0"/>
<line x1="312.30" y1="213.30" x2="312.30" y2="215.00" stroke="#1a1a1a" stroke-width="1.0"/>
<line x1="318.70" y1="213.30" x2="318.70" y2="215.00" stroke="#1a1a1a" stroke-width="1.0"/>
<line x1="249.60" y1="243.90" x2="249.60" y2="245.60" stroke="#1a1a1a" stroke-width="1.0"/>
<line x1="253.50" y1="243.90" x2="253.50" y2="245.60" stroke="#1a1a1a" stroke-width="1.0"/>
<line x1="263.75" y1="243.90" x2="263.75" y2="245.60" stroke="#1a1a1a" stroke-width="1.0"/>
<line x1="267.50" y1="243.90" x2="267.50" y2="245.60" stroke="#1a1a1a" stroke-width="1.0"/>
<line x1="269.00" y1="243.90" x2="269.00" y2="245.60" stroke="#1a1a1a" stroke-width="1.0"/>
<line x1="278.75" y1="243.90" x2="278.75" y2="245.60" stroke="#1a1a1a" stroke-width="1.0"/>
<line x1="287.50" y1="243.90" x2="287.50" y2="245.60" stroke="#1a1a1a" stroke-width="1.0"/>
<line x1="298.10" y1="243.90" x2="298.10" y2="245.60" stroke="#1a1a1a" stroke-width="1.0"/>
<line x1="303.10" y1="243.90" x2="303.10" y2="245.60" stroke="#1a1a1a" stroke-width="1.0"/>
<line x1="335.20" y1="243.90" x2="335.20" y2="245.60" stroke="#1a1a1a" stroke-width="1.0"/>
<path d="M375.8,203.8 H403.6 V207.2 H508.5" fill="none" stroke="#1b5a96" stroke-width="1.5"/>
<path d="M375.8,203.8 H384.6 V207.2 H393.4 V210.6 H408.6 V217.4 H418.7 V227.6 H431.6 V231 H508.5" fill="none" stroke="#d11f3a" stroke-width="1.5"/>
<line x1="384.30" y1="202.10" x2="384.30" y2="203.80" stroke="#1a1a1a" stroke-width="1.0"/>
<line x1="407.50" y1="205.50" x2="407.50" y2="207.20" stroke="#1a1a1a" stroke-width="1.0"/>
<line x1="426.50" y1="205.50" x2="426.50" y2="207.20" stroke="#1a1a1a" stroke-width="1.0"/>
<line x1="430.60" y1="205.50" x2="430.60" y2="207.20" stroke="#1a1a1a" stroke-width="1.0"/>
<line x1="433.40" y1="205.50" x2="433.40" y2="207.20" stroke="#1a1a1a" stroke-width="1.0"/>
<line x1="441.50" y1="205.50" x2="441.50" y2="207.20" stroke="#1a1a1a" stroke-width="1.0"/>
<line x1="442.70" y1="205.50" x2="442.70" y2="207.20" stroke="#1a1a1a" stroke-width="1.0"/>
<line x1="449.60" y1="205.50" x2="449.60" y2="207.20" stroke="#1a1a1a" stroke-width="1.0"/>
<line x1="451.30" y1="205.50" x2="451.30" y2="207.20" stroke="#1a1a1a" stroke-width="1.0"/>
<line x1="454.20" y1="205.50" x2="454.20" y2="207.20" stroke="#1a1a1a" stroke-width="1.0"/>
<line x1="456.90" y1="205.50" x2="456.90" y2="207.20" stroke="#1a1a1a" stroke-width="1.0"/>
<line x1="467.70" y1="205.50" x2="467.70" y2="207.20" stroke="#1a1a1a" stroke-width="1.0"/>
<line x1="469.40" y1="205.50" x2="469.40" y2="207.20" stroke="#1a1a1a" stroke-width="1.0"/>
<line x1="474.00" y1="205.50" x2="474.00" y2="207.20" stroke="#1a1a1a" stroke-width="1.0"/>
<line x1="475.80" y1="205.50" x2="475.80" y2="207.20" stroke="#1a1a1a" stroke-width="1.0"/>
<line x1="477.50" y1="205.50" x2="477.50" y2="207.20" stroke="#1a1a1a" stroke-width="1.0"/>
<line x1="485.60" y1="205.50" x2="485.60" y2="207.20" stroke="#1a1a1a" stroke-width="1.0"/>
<line x1="494.20" y1="205.50" x2="494.20" y2="207.20" stroke="#1a1a1a" stroke-width="1.0"/>
<line x1="495.90" y1="205.50" x2="495.90" y2="207.20" stroke="#1a1a1a" stroke-width="1.0"/>
<line x1="508.30" y1="205.50" x2="508.30" y2="207.20" stroke="#1a1a1a" stroke-width="1.0"/>
<line x1="429.50" y1="225.90" x2="429.50" y2="227.60" stroke="#1a1a1a" stroke-width="1.0"/>
<line x1="435.00" y1="229.30" x2="435.00" y2="231.00" stroke="#1a1a1a" stroke-width="1.0"/>
<line x1="437.50" y1="229.30" x2="437.50" y2="231.00" stroke="#1a1a1a" stroke-width="1.0"/>
<line x1="444.70" y1="229.30" x2="444.70" y2="231.00" stroke="#1a1a1a" stroke-width="1.0"/>
<line x1="454.80" y1="229.30" x2="454.80" y2="231.00" stroke="#1a1a1a" stroke-width="1.0"/>
<line x1="457.70" y1="229.30" x2="457.70" y2="231.00" stroke="#1a1a1a" stroke-width="1.0"/>
<line x1="461.80" y1="229.30" x2="461.80" y2="231.00" stroke="#1a1a1a" stroke-width="1.0"/>
<line x1="476.10" y1="229.30" x2="476.10" y2="231.00" stroke="#1a1a1a" stroke-width="1.0"/>
<line x1="478.90" y1="229.30" x2="478.90" y2="231.00" stroke="#1a1a1a" stroke-width="1.0"/>
<line x1="485.70" y1="229.30" x2="485.70" y2="231.00" stroke="#1a1a1a" stroke-width="1.0"/>
<line x1="487.60" y1="229.30" x2="487.60" y2="231.00" stroke="#1a1a1a" stroke-width="1.0"/>
<line x1="490.20" y1="229.30" x2="490.20" y2="231.00" stroke="#1a1a1a" stroke-width="1.0"/>
<line x1="501.50" y1="229.30" x2="501.50" y2="231.00" stroke="#1a1a1a" stroke-width="1.0"/>
<line x1="506.30" y1="229.30" x2="506.30" y2="231.00" stroke="#1a1a1a" stroke-width="1.0"/>
<line x1="507.80" y1="229.30" x2="507.80" y2="231.00" stroke="#1a1a1a" stroke-width="1.0"/>
<g id="txt"><text transform="translate(5.20,14.70) scale(1.0794,1)" font-size="11.2" fill="#111" style="stroke:#111;stroke-width:0.5px">A</text>
<text transform="translate(176.90,14.70) scale(0.7908,1)" font-size="11.6" fill="#111" style="stroke:#111;stroke-width:0.5px">B</text>
<text transform="translate(348.70,14.70) scale(0.9053,1)" font-size="11.2" fill="#111" style="stroke:#111;stroke-width:0.5px">C</text>
<text transform="translate(5.50,180.70) scale(0.9848,1)" font-size="11.0" fill="#111" style="stroke:#111;stroke-width:0.5px">D</text>
<text transform="translate(177.10,180.90) scale(0.8403,1)" font-size="10.2" fill="#111" style="stroke:#111;stroke-width:0.5px">E</text>
<text transform="translate(348.80,180.60) scale(0.8033,1)" font-size="10.0" fill="#111" style="stroke:#111;stroke-width:0.5px">F</text>
<text transform="translate(17.82,44.70) scale(0.8600,1)" font-size="8.2" fill="#262626">100</text>
<text transform="translate(21.77,66.62) scale(0.8600,1)" font-size="8.2" fill="#262626">10</text>
<text transform="translate(25.69,88.55) scale(0.8600,1)" font-size="8.2" fill="#262626">1</text>
<text transform="translate(19.80,110.48) scale(0.8600,1)" font-size="8.2" fill="#262626">0.1</text>
<text transform="translate(15.88,132.40) scale(0.8600,1)" font-size="8.2" fill="#262626">0.01</text>
<text transform="translate(39.50,139.60) scale(0.7336,1)" font-size="8.5" fill="#262626">TTL</text>
<text transform="translate(68.70,139.60) scale(0.7138,1)" font-size="8.5" fill="#262626">TTL</text>
<text transform="translate(110.60,139.60) scale(0.7138,1)" font-size="8.5" fill="#262626">TTL</text>
<text transform="translate(140.00,139.60) scale(0.7204,1)" font-size="8.5" fill="#262626">TTL</text>
<text transform="translate(51.30,135.90) scale(1.0690,1)" font-size="4.9" fill="#262626">long</text>
<text transform="translate(80.40,135.90) scale(1.1098,1)" font-size="4.9" fill="#262626">short</text>
<text transform="translate(122.10,135.90) scale(1.1878,1)" font-size="4.9" fill="#262626">long</text>
<text transform="translate(151.60,135.90) scale(1.1098,1)" font-size="4.9" fill="#262626">short</text>
<text transform="translate(57.00,150.00) scale(0.8904,1)" font-size="8.2" fill="#262626">miR-497</text>
<text transform="translate(123.50,150.00) scale(0.9259,1)" font-size="8.2" fill="#262626">miR-195</text>
<text transform="translate(50.10,35.40) scale(1.0134,1)" font-size="7.8" fill="#262626">p=0.0030</text>
<text transform="translate(118.90,35.40) scale(1.0134,1)" font-size="7.8" fill="#262626">p=0.0286</text>
<text transform="translate(12.30,116.80) rotate(-90) scale(0.8396,1) translate(-0.00,0)" font-size="8.6" fill="#262626">Relative expression</text>
<text transform="translate(185.82,46.50) scale(0.8600,1)" font-size="8.2" fill="#262626">100</text>
<text transform="translate(189.77,67.93) scale(0.8600,1)" font-size="8.2" fill="#262626">10</text>
<text transform="translate(193.69,89.35) scale(0.8600,1)" font-size="8.2" fill="#262626">1</text>
<text transform="translate(187.80,110.78) scale(0.8600,1)" font-size="8.2" fill="#262626">0.1</text>
<text transform="translate(183.88,132.20) scale(0.8600,1)" font-size="8.2" fill="#262626">0.01</text>
<text transform="translate(209.50,137.70) scale(0.9651,1)" font-size="8.5" fill="#262626">No</text>
<text transform="translate(227.40,137.70) scale(0.8710,1)" font-size="8.5" fill="#262626">Late</text>
<text transform="translate(246.50,137.70) scale(0.8514,1)" font-size="8.5" fill="#262626">Early</text>
<text transform="translate(276.90,137.70) scale(0.9926,1)" font-size="8.5" fill="#262626">No</text>
<text transform="translate(294.60,137.70) scale(0.9013,1)" font-size="8.5" fill="#262626">Late</text>
<text transform="translate(313.80,137.70) scale(0.8772,1)" font-size="8.5" fill="#262626">Early</text>
<text transform="translate(223.80,149.70) scale(0.9195,1)" font-size="8.2" fill="#262626">miR-497</text>
<text transform="translate(289.20,149.70) scale(0.9356,1)" font-size="8.2" fill="#262626">miR-195</text>
<text transform="translate(223.20,13.30) scale(1.0348,1)" font-size="7.8" fill="#262626">p=0.0008</text>
<text transform="translate(218.10,28.60) scale(0.9890,1)" font-size="7.8" fill="#262626">p=0.0017</text>
<text transform="translate(230.20,41.30) scale(0.9982,1)" font-size="7.8" fill="#262626">p=0.0025</text>
<text transform="translate(290.00,12.10) scale(1.0134,1)" font-size="7.8" fill="#262626">p=0.0085</text>
<text transform="translate(283.10,28.50) scale(1.0134,1)" font-size="7.8" fill="#262626">p=0.0174</text>
<text transform="translate(296.90,41.30) scale(1.0104,1)" font-size="7.8" fill="#262626">p=0.0025</text>
<text transform="translate(182.30,117.60) rotate(-90) scale(0.8396,1) translate(-0.00,0)" font-size="8.6" fill="#262626">Relative expression</text>
<text transform="translate(357.52,48.40) scale(0.8600,1)" font-size="8.2" fill="#262626">100</text>
<text transform="translate(361.47,65.30) scale(0.8600,1)" font-size="8.2" fill="#262626">80</text>
<text transform="translate(361.47,82.20) scale(0.8600,1)" font-size="8.2" fill="#262626">60</text>
<text transform="translate(361.47,99.10) scale(0.8600,1)" font-size="8.2" fill="#262626">40</text>
<text transform="translate(361.47,116.00) scale(0.8600,1)" font-size="8.2" fill="#262626">20</text>
<text transform="translate(365.39,132.90) scale(0.8600,1)" font-size="8.2" fill="#262626">0</text>
<text transform="translate(373.84,141.60) scale(0.8600,1)" font-size="8.2" fill="#262626">0</text>
<text transform="translate(403.59,141.60) scale(0.8600,1)" font-size="8.2" fill="#262626">10</text>
<text transform="translate(435.29,141.60) scale(0.8600,1)" font-size="8.2" fill="#262626">20</text>
<text transform="translate(466.99,141.60) scale(0.8600,1)" font-size="8.2" fill="#262626">30</text>
<text transform="translate(498.69,141.60) scale(0.8600,1)" font-size="8.2" fill="#262626">40</text>
<text transform="translate(382.80,154.00) scale(0.8962,1)" font-size="8.4" fill="#262626">Time after transplantation [weeks]</text>
<text transform="translate(351.30,107.30) rotate(-90) scale(0.8951,1) translate(-0.00,0)" font-size="8.4" fill="#262626">Survival [%]</text>
<text transform="translate(378.50,116.70) scale(1.0109,1)" font-size="8.0" fill="#262626">Log rank</text>
<text transform="translate(378.60,125.90) scale(0.9315,1)" font-size="8.0" fill="#262626">p=0.0007</text>
<text transform="translate(376.20,25.40) scale(0.9259,1)" font-size="7.8" fill="#262626">High miR-497/195; n=13</text>
<text transform="translate(376.20,34.00) scale(0.9310,1)" font-size="7.8" fill="#262626">Low miR-497/195; n=13</text>
<text transform="translate(18.17,207.20) scale(0.8600,1)" font-size="7.8" fill="#262626">1000</text>
<text transform="translate(21.90,221.60) scale(0.8600,1)" font-size="7.8" fill="#262626">100</text>
<text transform="translate(25.65,236.00) scale(0.8600,1)" font-size="7.8" fill="#262626">10</text>
<text transform="translate(29.38,250.40) scale(0.8600,1)" font-size="7.8" fill="#262626">1</text>
<text transform="translate(23.78,264.80) scale(0.8600,1)" font-size="7.8" fill="#262626">0.1</text>
<text transform="translate(20.05,279.20) scale(0.8600,1)" font-size="7.8" fill="#262626">0.01</text>
<text transform="translate(16.30,293.60) scale(0.8600,1)" font-size="7.8" fill="#262626">0.001</text>
<text transform="translate(44.90,300.20) scale(0.9283,1)" font-size="8.5" fill="#262626">No</text>
<text transform="translate(62.80,300.20) scale(0.8831,1)" font-size="8.5" fill="#262626">Late</text>
<text transform="translate(81.80,300.20) scale(0.8978,1)" font-size="8.5" fill="#262626">Early</text>
<text transform="translate(113.50,300.20) scale(0.9467,1)" font-size="8.5" fill="#262626">No</text>
<text transform="translate(131.50,300.20) scale(0.8650,1)" font-size="8.5" fill="#262626">Late</text>
<text transform="translate(150.80,300.20) scale(0.8720,1)" font-size="8.5" fill="#262626">Early</text>
<text transform="translate(59.50,311.50) scale(0.9098,1)" font-size="8.2" fill="#262626">miR-497</text>
<text transform="translate(125.80,311.50) scale(0.9162,1)" font-size="8.2" fill="#262626">miR-195</text>
<text transform="translate(58.40,181.30) scale(1.0043,1)" font-size="7.8" fill="#262626">p=0.0167</text>
<text transform="translate(53.70,196.70) scale(1.0440,1)" font-size="7.8" fill="#262626">p=0.0216</text>
<text transform="translate(126.00,181.50) scale(1.0287,1)" font-size="7.8" fill="#262626">p=0.0351</text>
<text transform="translate(122.90,196.70) scale(1.0470,1)" font-size="7.8" fill="#262626">p=0.0332</text>
<text transform="translate(12.30,279.60) rotate(-90) scale(0.8436,1) translate(-0.00,0)" font-size="8.6" fill="#262626">Relative expression</text>
<text transform="translate(186.02,207.60) scale(0.8600,1)" font-size="8.2" fill="#262626">100</text>
<text transform="translate(189.97,225.02) scale(0.8600,1)" font-size="8.2" fill="#262626">80</text>
<text transform="translate(189.97,242.44) scale(0.8600,1)" font-size="8.2" fill="#262626">60</text>
<text transform="translate(189.97,259.86) scale(0.8600,1)" font-size="8.2" fill="#262626">40</text>
<text transform="translate(189.97,277.28) scale(0.8600,1)" font-size="8.2" fill="#262626">20</text>
<text transform="translate(193.89,294.70) scale(0.8600,1)" font-size="8.2" fill="#262626">0</text>
<text transform="translate(202.44,302.20) scale(0.8600,1)" font-size="8.2" fill="#262626">0</text>
<text transform="translate(268.14,302.20) scale(0.8600,1)" font-size="8.2" fill="#262626">5</text>
<text transform="translate(331.89,302.20) scale(0.8600,1)" font-size="8.2" fill="#262626">10</text>
<text transform="translate(211.90,315.20) scale(0.8801,1)" font-size="8.4" fill="#262626">Time after first diagnosis [years]</text>
<text transform="translate(184.40,284.00) rotate(-90) scale(0.8579,1) translate(-0.00,0)" font-size="8.4" fill="#262626">Event-free survival [%]</text>
<text transform="translate(270.60,287.70) scale(0.9692,1)" font-size="8.0" fill="#262626">Log rank p=0.0200</text>
<text transform="translate(202.20,181.80) scale(0.9271,1)" font-size="7.8" fill="#262626">High miR-497/195, 89.22±0.7133; n=17</text>
<text transform="translate(202.20,194.00) scale(0.9243,1)" font-size="7.8" fill="#262626">Low miR-497/195, 64.36±4.081; n=17</text>
<text transform="translate(360.22,206.70) scale(0.8600,1)" font-size="8.2" fill="#262626">100</text>
<text transform="translate(364.17,224.34) scale(0.8600,1)" font-size="8.2" fill="#262626">80</text>
<text transform="translate(364.17,241.98) scale(0.8600,1)" font-size="8.2" fill="#262626">60</text>
<text transform="translate(364.17,259.62) scale(0.8600,1)" font-size="8.2" fill="#262626">40</text>
<text transform="translate(364.17,277.26) scale(0.8600,1)" font-size="8.2" fill="#262626">20</text>
<text transform="translate(368.09,294.90) scale(0.8600,1)" font-size="8.2" fill="#262626">0</text>
<text transform="translate(373.84,302.50) scale(0.8600,1)" font-size="8.2" fill="#262626">0</text>
<text transform="translate(439.99,302.50) scale(0.8600,1)" font-size="8.2" fill="#262626">5</text>
<text transform="translate(504.19,302.50) scale(0.8600,1)" font-size="8.2" fill="#262626">10</text>
<text transform="translate(389.80,317.00) scale(0.8835,1)" font-size="8.4" fill="#262626">Time after first diagnosis [years]</text>
<text transform="translate(355.60,287.50) rotate(-90) scale(0.8590,1) translate(-0.00,0)" font-size="8.4" fill="#262626">Relapse-free survival [%]</text>
<text transform="translate(440.20,286.20) scale(0.9364,1)" font-size="8.0" fill="#262626">Log rank p=0.0182</text>
<text transform="translate(373.80,180.40) scale(0.9293,1)" font-size="7.8" fill="#262626">High miR-497/195, 96.31±0.2132; n=26</text>
<text transform="translate(373.80,193.30) scale(0.9305,1)" font-size="7.8" fill="#262626">Low miR-497/195, 74.36±1.819; n=26</text></g>
<path d="M0,0 H520 V1.05 H0 Z M0,0 H1.1 V326 H0 Z M518.3,0 H520 V326 H518.3 Z M0,324.75 H520 V326 H0 Z" fill="#161616"/>
</svg>
</body></html>
